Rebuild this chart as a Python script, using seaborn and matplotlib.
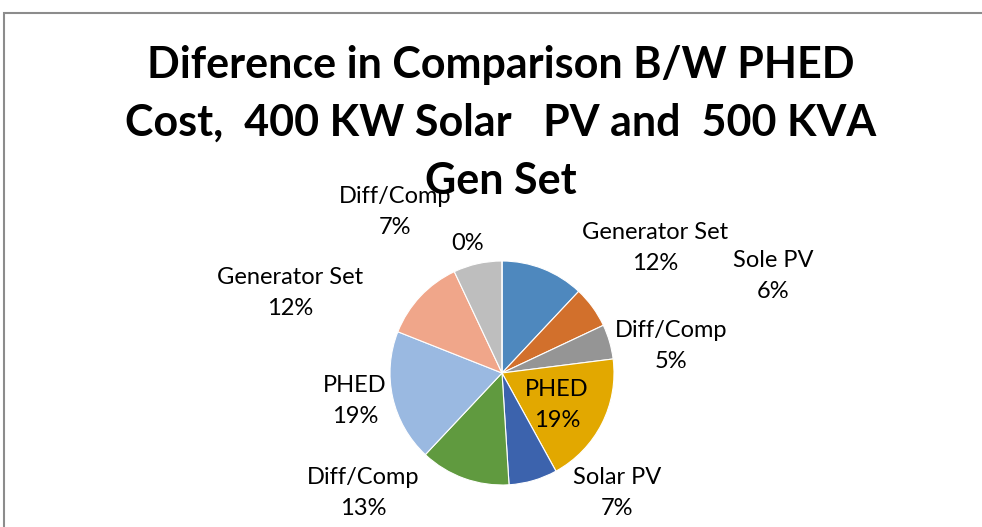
import matplotlib
matplotlib.use("Agg")
import matplotlib.pyplot as plt
import seaborn as sns
from matplotlib.patches import Rectangle

sns.set_theme(style="white")
plt.rcParams['font.family'] = ['Lato', 'DejaVu Sans']

categories = ["Generator Set", "Sole PV", "Diff/Comp", "PHED", "Solar PV",
              "Diff/Comp", "PHED", "Generator Set", "Diff/Comp", ""]
values = [12, 6, 5, 19, 7, 13, 19, 12, 7, 0]
colors = ["#4E88BE", "#D2702C", "#959595", "#E2A800", "#3C63AD",
          "#609A3F", "#9AB9E1", "#F0A68A", "#BEBEBE", "#FFC000"]
title_lines = ["Diference in Comparison B/W PHED",
               "Cost,  400 KW Solar   PV and  500 KVA",
               "Gen Set"]

# label offsets from pie centre (pixels, y up)
label_offsets = [(153, 125), (271, 97), (169, 27), (55, -32), (115, -120),
                 (-139, -120), (-147, -28), (-212, 80), (-107, 161), (-34, 130)]

W, H = 982, 527
fig = plt.figure(figsize=(W / 100, H / 100), dpi=100)
ax = fig.add_axes([0, 0, 1, 1])
ax.set_xlim(0, W)
ax.set_ylim(0, H)
ax.axis("off")

# chart frame
ax.add_patch(Rectangle((4.5, -10), 1000, H - 12.5 + 10, fill=False,
                       edgecolor="#8c8c8c", linewidth=1.5))

cx, cy, r = 502, 154, 112
ax.pie(values, colors=colors, startangle=90, counterclock=False,
       center=(cx, cy), radius=r, frame=True,
       wedgeprops=dict(edgecolor="white", linewidth=0.8))
ax.set_xlim(0, W)
ax.set_ylim(0, H)
ax.axis("off")

total = sum(values)
for cat, v, (dx, dy) in zip(categories, values, label_offsets):
    pct = f"{round(100 * v / total):d}%"
    txt = f"{cat}\n{pct}" if cat else pct
    ax.text(cx + dx, cy + dy, txt, ha="center", va="center", fontsize=17,
            color="black", linespacing=1.55)

for i, line in enumerate(title_lines):
    ax.text(501, H - (65 + 58 * i), line, ha="center", va="center",
            fontsize=31, fontweight="bold", color="black")

fig.savefig("out.png", dpi=100, facecolor="white")
